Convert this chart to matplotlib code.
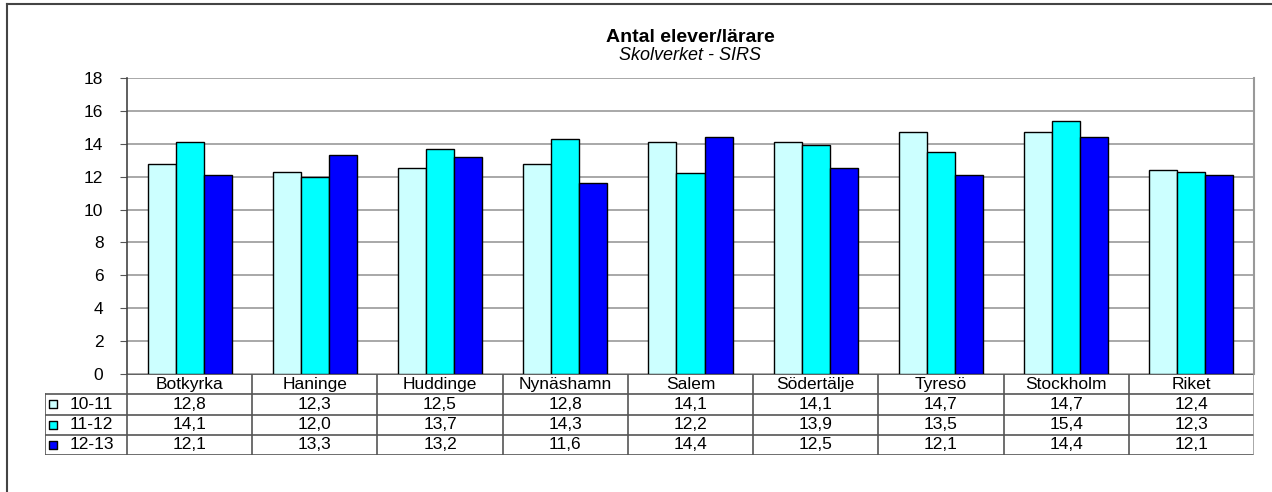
import matplotlib.pyplot as plt
import numpy as np

plt.rcParams['font.family'] = ['Liberation Sans', 'DejaVu Sans']

# Antal elever per lärare, tre läsår
kommuner = ['Botkyrka', 'Haninge', 'Huddinge', 'Nynäshamn', 'Salem',
            'Södertälje', 'Tyresö', 'Stockholm', 'Riket']
serier = ['10-11', '11-12', '12-13']
v_10_11 = [12.8, 12.3, 12.5, 12.8, 14.1, 14.1, 14.7, 14.7, 12.4]
v_11_12 = [14.1, 12.0, 13.7, 14.3, 12.2, 13.9, 13.5, 15.4, 12.3]
v_12_13 = [12.1, 13.3, 13.2, 11.6, 14.4, 12.5, 12.1, 14.4, 12.1]
farger = ['#CCFFFF', '#00FFFF', '#0000FF']
yticks = [0, 2, 4, 6, 8, 10, 12, 14, 16, 18]

W, H = 1272, 492
fig = plt.figure(figsize=(W / 100, H / 100), dpi=100)

def px(x0, y0, x1, y1):
    # pixel box (top-left origin) -> figure fraction rect
    return [x0 / W, 1 - y1 / H, (x1 - x0) / W, (y1 - y0) / H]

# outer frame
frame = fig.add_axes([0, 0, 1, 1])
frame.set_xlim(0, W)
frame.set_ylim(H, 0)
frame.axis('off')
frame.plot([7, W], [4, 4], color='#444444', lw=1.5)
frame.plot([7, 7], [4, H], color='#444444', lw=1.5)
frame.text(690, 37, 'Antal elever/lärare', ha='center', va='center',
           fontsize=14, fontweight='bold')
frame.text(690, 55, 'Skolverket - SIRS', ha='center', va='center',
           fontsize=13, fontstyle='italic')

# bars
ax = fig.add_axes(px(127, 78, 1254, 374))
x = np.arange(len(kommuner))
bw = 0.224
data = [v_10_11, v_11_12, v_12_13]
for i, (vals, c) in enumerate(zip(data, farger)):
    ax.bar(x + (i - 1) * bw, vals, bw, color=c, edgecolor='black',
           linewidth=1.0, zorder=3)
ax.set_xlim(-0.5, len(kommuner) - 0.5)
ax.set_ylim(0, 18)
ax.set_yticks(yticks)
ax.set_yticklabels([str(t) for t in yticks], fontsize=12.5)
ax.set_xticks([])
ax.grid(axis='y', color='#999999', lw=1.2, zorder=0)
ax.tick_params(axis='y', length=5, color='#555555', pad=12)
for s in ['top', 'bottom']:
    ax.spines[s].set_visible(False)
ax.spines['right'].set_color('#999999')
ax.spines['right'].set_linewidth(1.5)
ax.spines['left'].set_color('#444444')
ax.spines['left'].set_linewidth(1.2)

# data table under the chart
leg_w = 82 / ((1254 - 127) / len(kommuner))
tx = fig.add_axes(px(45, 374, 1254, 455))
x0 = -0.5 - leg_w
tx.set_xlim(x0, len(kommuner) - 0.5)
tx.set_ylim(4, 0)
tx.axis('off')
lc = '#555555'
tx.plot([-0.5, len(kommuner) - 0.5], [0, 0], color='#444444', lw=1.2)
for r in range(1, 5):
    tx.plot([x0, len(kommuner) - 0.5], [r, r], color=lc, lw=1.2)
tx.plot([x0, x0], [1, 4], color=lc, lw=1.2)
for k in range(len(kommuner) + 1):
    tx.plot([k - 0.5, k - 0.5], [0, 4], color=lc if k < len(kommuner) else '#999999', lw=1.2)
for k, namn in enumerate(kommuner):
    tx.text(k, 0.5, namn, ha='center', va='center', fontsize=12.5)
for r, (lab, vals, c) in enumerate(zip(serier, data, farger)):
    tx.scatter([x0 + 0.06], [r + 1.5], marker='s', s=40, color=c,
               edgecolors='black', linewidths=1.0, clip_on=False)
    tx.text(x0 + 0.2, r + 1.5, lab, ha='left', va='center', fontsize=12.5)
    for k, v in enumerate(vals):
        tx.text(k, r + 1.5, f'{v:.1f}'.replace('.', ','), ha='center',
                va='center', fontsize=12.5)

fig.savefig('out.png', dpi=100)
